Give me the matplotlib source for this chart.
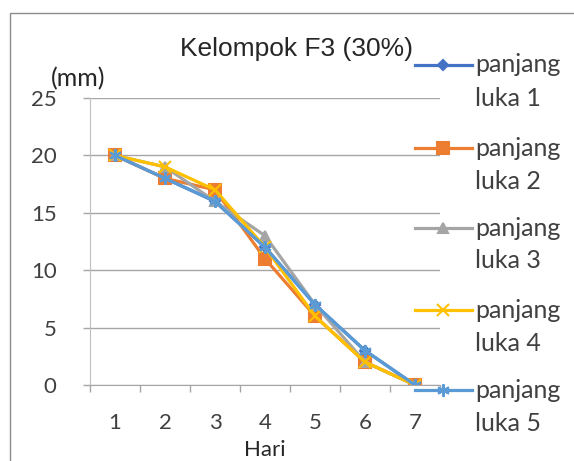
import matplotlib
matplotlib.use("Agg")
import matplotlib.pyplot as plt
from matplotlib.lines import Line2D
from matplotlib.patches import Rectangle

hari = [1, 2, 3, 4, 5, 6, 7]
luka1 = [20, 18, 16, 12, 7, 3, 0]
luka2 = [20, 18, 17, 11, 6, 2, 0]
luka3 = [20, 19, 16, 13, 7, 2, 0]
luka4 = [20, 19, 17, 12, 6, 2, 0]
luka5 = [20, 18, 16, 12, 7, 3, 0]
labels = ["luka 1", "luka 2", "luka 3", "luka 4", "luka 5"]
colors = ["#4472C4", "#ED7D31", "#A5A5A5", "#FFC000", "#5B9BD5"]
markers = ["D", "s", "^", "x", (6, 2, 0)]
msizes = [5, 8, 7, 8, 9]

series = [luka1, luka2, luka3, luka4, luka5]

fig = plt.figure(figsize=(5.74, 4.61), dpi=100)
ax = fig.add_axes([90 / 574, 1 - 385 / 461, 350 / 574, 287 / 461])

for y, c, m, ms in zip(series, colors, markers, msizes):
    ax.plot(hari, y, color=c, lw=2.3, marker=m, ms=ms, mew=1.5,
            mec=c, mfc=c, solid_joinstyle="round")

ax.set_xlim(0.5, 7.5)
ax.set_ylim(0, 25)
ax.set_yticks([0, 5, 10, 15, 20, 25])
ax.set_xticks(hari)
ax.set_xticks([h + 0.5 for h in [0] + hari], minor=True)
ax.tick_params(axis="x", which="major", length=0, pad=20,
               labelsize=16, labelcolor="#404040")
ax.tick_params(axis="x", which="minor", length=5, color="#a6a6a6", width=1)
ax.tick_params(axis="y", length=5, color="#a6a6a6", width=1, pad=19,
               labelsize=16, labelcolor="#404040")
ax.grid(axis="y", color="#a6a6a6", lw=1)
ax.set_axisbelow(True)
for s in ["top", "right"]:
    ax.spines[s].set_visible(False)
ax.spines["left"].set_color("#bfbfbf")
ax.spines["bottom"].set_color("#a6a6a6")
for t in ax.get_xticklabels() + ax.get_yticklabels():
    t.set_family("Lato")

fig.text(297 / 574, 1 - 49 / 461, "Kelompok F3 (30%)", ha="center", va="center",
         fontsize=19, family="Liberation Sans", color="#262626")
fig.text(78 / 574, 1 - 79 / 461, "(mm)", ha="center", va="center",
         fontsize=18, family="Lato", color="#262626")
fig.text(265 / 574, 1 - 450 / 461, "Hari", ha="center", va="center",
         fontsize=16, family="Lato", color="#262626")

# legend drawn to mimic Excel layout
leg_y = [65, 148, 228, 310, 390]
for ly, lab, c, m, ms in zip(leg_y, labels, colors, markers, msizes):
    yf = 1 - ly / 461
    fig.add_artist(Line2D([415 / 574, 472 / 574], [yf, yf], color=c, lw=2.3))
    fig.add_artist(Line2D([443 / 574], [yf], color=c, marker=m, ms=ms,
                          mew=1.5, mec=c, mfc=c))
    fig.text(475 / 574, yf, "panjang", ha="left", va="center",
             fontsize=18, family="Lato", color="#404040")
    fig.text(475 / 574, yf - 33 / 461, lab, ha="left", va="center",
             fontsize=18, family="Lato", color="#404040")

fig.add_artist(Rectangle((10 / 574, -0.1), 1.2, 1 - 13 / 461 + 0.1,
                         transform=fig.transFigure, fill=False,
                         edgecolor="#8c8c8c", lw=1))

fig.savefig("out.png", dpi=100)
